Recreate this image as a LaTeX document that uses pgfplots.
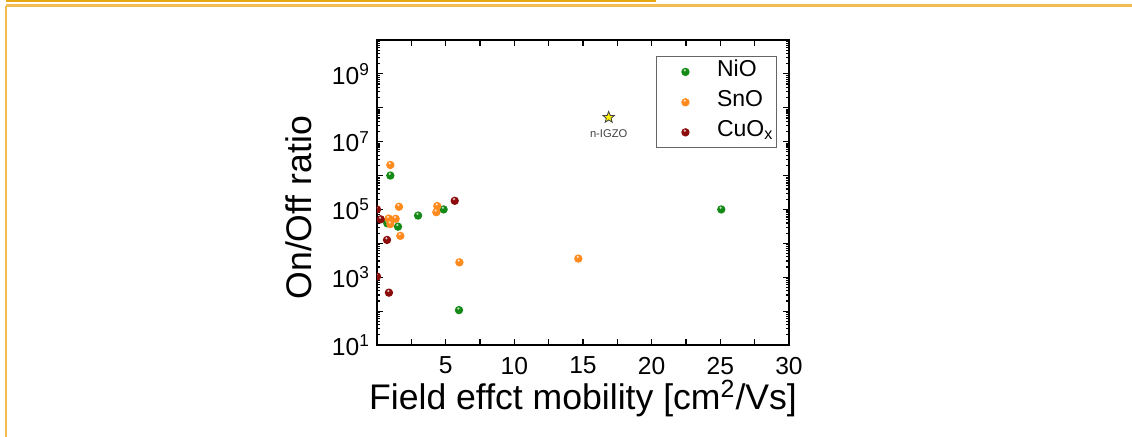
\documentclass[border=0pt]{standalone}
\usepackage{fontspec}
\setmainfont{Liberation Sans}
\usepackage{pgfplots}
\pgfplotsset{compat=1.18}

\definecolor{nio}{RGB}{22,138,22}
\definecolor{sno}{RGB}{255,138,30}
\definecolor{cuo}{RGB}{140,12,12}
\definecolor{frameA}{RGB}{232,165,20}
\definecolor{frameB}{RGB}{242,188,80}

% filled five-point star for the n-IGZO reference point
\newdimen\starr
\pgfdeclareplotmark{fstar}{%
  \starr=0.42\pgfplotmarksize
  \pgfpathmoveto{\pgfpointpolar{90}{\pgfplotmarksize}}%
  \pgfpathlineto{\pgfpointpolar{126}{\starr}}%
  \pgfpathlineto{\pgfpointpolar{162}{\pgfplotmarksize}}%
  \pgfpathlineto{\pgfpointpolar{198}{\starr}}%
  \pgfpathlineto{\pgfpointpolar{234}{\pgfplotmarksize}}%
  \pgfpathlineto{\pgfpointpolar{270}{\starr}}%
  \pgfpathlineto{\pgfpointpolar{306}{\pgfplotmarksize}}%
  \pgfpathlineto{\pgfpointpolar{342}{\starr}}%
  \pgfpathlineto{\pgfpointpolar{18}{\pgfplotmarksize}}%
  \pgfpathlineto{\pgfpointpolar{54}{\starr}}%
  \pgfpathclose
  \pgfusepathqfillstroke}

% glossy dot: flat fill plus a small white highlight
\pgfdeclareplotmark{hball}{%
  \pgfpathcircle{\pgfpointorigin}{\pgfplotmarksize}%
  \pgfusepathqfill
  \begin{pgfscope}
  \pgfsetfillcolor{white}\pgfsetfillopacity{0.7}%
  \pgfpathcircle{\pgfpoint{-0.15\pgfplotmarksize}{0.4\pgfplotmarksize}}{0.3\pgfplotmarksize}%
  \pgfusepathqfill
  \end{pgfscope}}

\begin{document}
\begin{tikzpicture}
\useasboundingbox (0pt,0pt) rectangle (566pt,-218.5pt);
% slide frame
\draw[frameA, line width=1pt] (3pt,-0.5pt) -- (328pt,-0.5pt);
\draw[frameB, line width=1.3pt] (3pt,-2.9pt) -- (566pt,-2.9pt);
\draw[frameB, line width=1pt] (3pt,-2.9pt) -- (3pt,-218.5pt);

\begin{axis}[
  at={(188.5pt,-172.5pt)}, anchor=south west,
  scale only axis, width=206pt, height=152.5pt,
  xmin=0, xmax=30, ymode=log, ymin=10, ymax=1e10,
  xtick={0,2.5,...,30},
  xticklabels={,,5,,10,,15,,20,,25,,30},
  ytick={1e1,1e2,1e3,1e4,1e5,1e6,1e7,1e8,1e9},
  yticklabels={10\textsuperscript{1},,10\textsuperscript{3},,10\textsuperscript{5},,10\textsuperscript{7},,10\textsuperscript{9}},
  minor ytick={20,30,40,50,60,70,80,90,
    200,300,400,500,600,700,800,900,
    2e3,3e3,4e3,5e3,6e3,7e3,8e3,9e3,
    2e4,3e4,4e4,5e4,6e4,7e4,8e4,9e4,
    2e5,3e5,4e5,5e5,6e5,7e5,8e5,9e5,
    2e6,3e6,4e6,5e6,6e6,7e6,8e6,9e6,
    2e7,3e7,4e7,5e7,6e7,7e7,8e7,9e7,
    2e8,3e8,4e8,5e8,6e8,7e8,8e8,9e8,
    2e9,3e9,4e9,5e9,6e9,7e9,8e9,9e9},
  tick align=inside,
  major tick length=2.8pt, minor tick length=1.6pt,
  every tick/.style={black, line width=0.6pt},
  axis line style={line width=0.9pt},
  tick label style={font=\fontsize{12.3}{14}\selectfont},
  xticklabel style={yshift=-2.5pt},
  label style={font=\fontsize{17.8}{20}\selectfont},
  xlabel={Field effct mobility [cm\textsuperscript{2}/Vs]},
  ylabel={On/Off ratio},
  xlabel style={at={(axis description cs:0.5,-0.213)}, anchor=base},
  ylabel style={at={(axis description cs:-0.158,0.45)}, anchor=base, rotate=0},
  clip marker paths=true,
  legend style={at={(rel axis cs:1,1)}, anchor=north east,
    xshift=-6pt, yshift=-8pt, draw=black!60, line width=0.6pt,
    font=\fontsize{11.5}{13}\selectfont, row sep=2pt,
    inner xsep=0.5pt, inner ysep=1pt,
    nodes={inner xsep=1pt, inner ysep=0.5pt, text depth=4pt}},
  legend cell align=left,
  legend image code/.code={\path (-13.5pt,0pt) (14.5pt,0pt);
    \draw[#1] plot coordinates {(0pt,0pt)};},
]
\addplot[only marks, mark=hball, mark size=2.1pt, mark options={fill=nio}] coordinates {
  (0.97,1.0e6) (4.85,1.0e5) (2.99,6.6e4) (1.53,3.1e4) (0.75,3.9e4)
  (5.97,1.07e2) (25.07,1.0e5)
};
\addlegendentry{NiO}
\addplot[only marks, mark=hball, mark size=2.1pt, mark options={fill=sno}] coordinates {
  (0.97,2.05e6) (1.60,1.2e5) (4.39,1.26e5) (4.32,8.3e4) (0.85,5.4e4)
  (1.36,5.3e4) (0.97,3.7e4) (1.70,1.66e4) (6.00,2.75e3) (14.66,3.55e3)
};
\addlegendentry{SnO}
\addplot[only marks, mark=hball, mark size=2.1pt, mark options={fill=cuo}] coordinates {
  (5.66,1.8e5) (0,1.0e5) (0.27,5.1e4) (0.73,1.26e4) (0,1.05e3) (0.87,3.5e2)
};
\addlegendentry{CuO\textsubscript{x}}
\addplot[only marks, mark=fstar, mark size=3pt,
  mark options={fill=yellow, draw=black!75, line width=0.4pt}, forget plot]
  coordinates {(16.87,5.2e7)};
\node[font=\fontsize{5.6}{6}\selectfont, text=black!75, yshift=-8pt]
  at (axis cs:16.87,5.2e7) {n-IGZO};
\end{axis}
\end{tikzpicture}
\end{document}
